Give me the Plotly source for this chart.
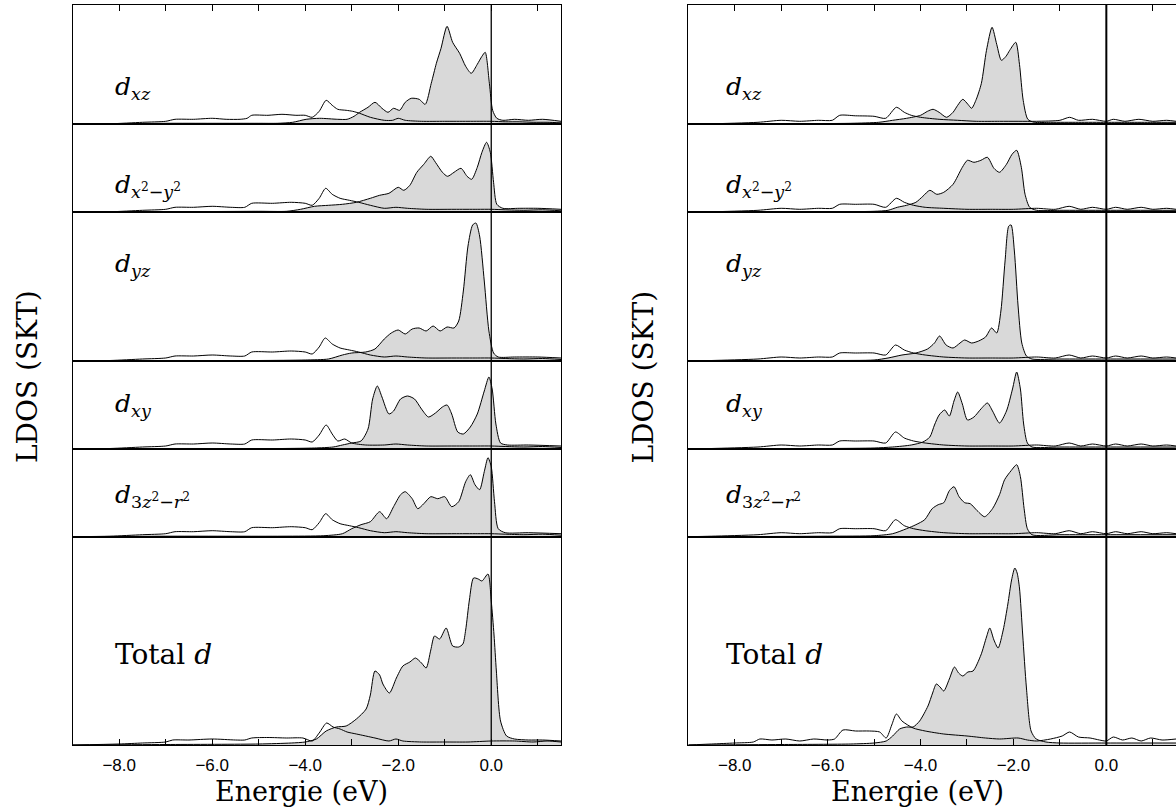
import plotly.graph_objects as go

# ---------------- data (energy in eV, LDOS in arbitrary units) ----------------
LABELS = ["<i>d</i><sub><i>xz</i></sub>",
          "<i>d</i><sub><i>x</i><sup>2</sup>−<i>y</i><sup>2</sup></sub>",
          "<i>d</i><sub><i>yz</i></sub>",
          "<i>d</i><sub><i>xy</i></sub>",
          "<i>d</i><sub>3<i>z</i><sup>2</sup>−<i>r</i><sup>2</sup></sub>",
          "Total <i>d</i>"]
YMAX = [119.3, 88.0, 148.7, 88.0, 87.7, 208.3]
E_RANGE = [-9.0, 1.5]
TICK_VALS = [-8, -6, -4, -2, 0]
TICK_TEXT = ["−8.0", "−6.0", "−4.0", "−2.0", "0.0"]
MINOR_VALS = [-7, -5, -3, -1, 1]
X_TITLE = "Energie (eV)"
Y_TITLE = "LDOS (SKT)"

L_DXZ_A = [(-9.0, 0), (-8.0, 0.5), (-7.0, 1), (-6.0, 1), (-5.0, 1), (-4.6, 1), (-4.27, 2), (-3.98, 5),
           (-3.69, 6), (-3.3, 5), (-3.1, 5), (-2.95, 8), (-2.83, 12), (-2.65, 17), (-2.5, 22), (-2.35, 16),
           (-2.22, 12), (-2.1, 16), (-1.97, 14), (-1.85, 22), (-1.72, 26), (-1.55, 25), (-1.42, 20),
           (-1.29, 41), (-1.18, 61), (-1.08, 76), (-0.95, 98), (-0.83, 82), (-0.68, 71), (-0.55, 58),
           (-0.43, 51), (-0.3, 60), (-0.2, 68), (-0.13, 72), (-0.04, 41), (0.03, 14), (0.12, 6),
           (0.25, 4), (0.5, 5), (0.8, 4), (1.1, 5), (1.5, 3)]
L_DXZ_B = [(-9.0, 0), (-8.2, 0.5), (-7.5, 2), (-7.0, 3), (-6.8, 5), (-6.4, 5), (-6.0, 6), (-5.7, 5),
           (-5.4, 5), (-5.25, 6), (-5.15, 9), (-4.8, 9), (-4.5, 10), (-4.2, 9), (-4.0, 9), (-3.85, 7),
           (-3.7, 13), (-3.55, 24), (-3.42, 19), (-3.3, 15), (-3.12, 14), (-2.98, 13), (-2.83, 11),
           (-2.6, 7), (-2.3, 4), (-2.12, 4), (-2.0, 6), (-1.85, 4), (-1.5, 3), (-1.0, 3), (-0.5, 3),
           (0.0, 3), (0.3, 2.5), (0.6, 2.5), (0.9, 2), (1.2, 2), (1.5, 1.5)]
L_DX2Y2_A = [(-9.0, 0), (-7.0, 0.5), (-5.0, 1), (-4.4, 1), (-4.1, 3), (-3.8, 6), (-3.5, 7), (-3.2, 8),
             (-2.9, 10), (-2.6, 14), (-2.4, 17), (-2.2, 19), (-2.0, 25), (-1.88, 22), (-1.75, 27),
             (-1.6, 40), (-1.45, 48), (-1.3, 56), (-1.2, 50), (-1.05, 40), (-0.94, 36), (-0.8, 40),
             (-0.65, 44), (-0.52, 36), (-0.42, 33), (-0.3, 45), (-0.2, 60), (-0.1, 70), (-0.02, 60),
             (0.05, 30), (0.12, 8), (0.25, 4), (0.6, 4), (1.0, 4), (1.5, 3)]
L_DX2Y2_B = [(-9.0, 0), (-8.2, 0.5), (-7.5, 2), (-7.0, 3), (-6.8, 5), (-6.4, 5), (-6.0, 6), (-5.6, 5),
             (-5.3, 5), (-5.15, 9), (-4.7, 9), (-4.3, 10), (-4.0, 9), (-3.85, 7), (-3.7, 14),
             (-3.56, 24), (-3.42, 18), (-3.25, 14), (-3.05, 12), (-2.85, 10), (-2.6, 7), (-2.3, 4),
             (-2.05, 5), (-1.8, 4), (-1.4, 3), (-0.8, 3), (-0.3, 3), (0.0, 3), (0.3, 2.5), (0.7, 2),
             (1.1, 2.5), (1.5, 1.5)]
L_DYZ_A = [(-9.0, 0), (-7.0, 0.5), (-5.0, 0.5), (-4.0, 1), (-3.5, 2), (-3.2, 6), (-3.0, 8), (-2.7, 9),
           (-2.5, 12), (-2.3, 22), (-2.15, 28), (-2.0, 31), (-1.85, 27), (-1.7, 32), (-1.55, 33),
           (-1.4, 30), (-1.25, 35), (-1.1, 30), (-0.95, 34), (-0.8, 33), (-0.7, 40), (-0.6, 70),
           (-0.5, 115), (-0.4, 136), (-0.33, 138), (-0.25, 125), (-0.15, 80), (-0.05, 30), (0.05, 8),
           (0.15, 4), (0.5, 4), (1.0, 4), (1.5, 3)]
L_DYZ_B = [(-9.0, 0), (-8.2, 0.5), (-7.5, 2), (-7.0, 3), (-6.8, 5), (-6.4, 5), (-6.0, 6), (-5.6, 5),
           (-5.3, 5), (-5.15, 9), (-4.7, 9), (-4.3, 10), (-4.0, 9), (-3.85, 7), (-3.7, 14), (-3.57, 23),
           (-3.42, 17), (-3.25, 13), (-3.05, 11), (-2.85, 9), (-2.6, 6), (-2.3, 4), (-2.05, 5),
           (-1.8, 4), (-1.4, 3), (-0.8, 3), (-0.3, 3), (0.0, 3), (0.3, 2.5), (0.7, 2), (1.1, 2.5),
           (1.5, 1.5)]
L_DXY_A = [(-9.0, 0), (-7.0, 0.5), (-4.5, 0.5), (-3.8, 1), (-3.4, 2), (-3.2, 4), (-3.0, 6), (-2.8, 8),
           (-2.65, 20), (-2.55, 50), (-2.45, 63), (-2.35, 52), (-2.2, 35), (-2.1, 38), (-1.95, 50),
           (-1.8, 53), (-1.65, 50), (-1.5, 40), (-1.35, 32), (-1.2, 36), (-1.05, 42), (-0.95, 44),
           (-0.85, 35), (-0.72, 17), (-0.6, 15), (-0.45, 22), (-0.3, 35), (-0.15, 58), (-0.05, 72),
           (0.02, 60), (0.1, 25), (0.2, 6), (0.35, 4), (0.8, 4), (1.5, 3)]
L_DXY_B = [(-9.0, 0), (-8.2, 0.5), (-7.5, 2), (-7.0, 3), (-6.8, 5), (-6.4, 5), (-6.0, 6), (-5.6, 5),
           (-5.3, 5), (-5.15, 9), (-4.7, 9), (-4.3, 10), (-4.0, 9), (-3.85, 7), (-3.7, 14),
           (-3.55, 24), (-3.42, 15), (-3.3, 8), (-3.15, 10), (-3.0, 6), (-2.7, 4), (-2.3, 4),
           (-2.05, 5), (-1.8, 4), (-1.4, 3), (-0.8, 3), (-0.3, 3), (0.0, 3), (0.3, 2.5), (0.7, 2),
           (1.1, 2.5), (1.5, 1.5)]
L_D3Z2_A = [(-9.0, 0), (-7.0, 0.5), (-4.5, 0.5), (-3.6, 1), (-3.2, 3), (-3.0, 8), (-2.8, 12), (-2.6, 15),
            (-2.4, 25), (-2.25, 18), (-2.1, 30), (-1.95, 42), (-1.85, 45), (-1.7, 38), (-1.58, 28),
            (-1.45, 33), (-1.3, 40), (-1.15, 38), (-1.0, 40), (-0.85, 30), (-0.7, 35), (-0.55, 55),
            (-0.45, 62), (-0.35, 52), (-0.25, 47), (-0.15, 65), (-0.07, 79), (0.0, 70), (0.07, 35),
            (0.15, 8), (0.3, 4), (0.8, 4), (1.5, 3)]
L_D3Z2_B = [(-9.0, 0), (-8.2, 0.5), (-7.5, 2), (-7.0, 3), (-6.8, 5), (-6.4, 5), (-6.0, 6), (-5.6, 5),
            (-5.3, 5), (-5.15, 9), (-4.7, 9), (-4.3, 10), (-4.0, 9), (-3.85, 7), (-3.7, 14),
            (-3.56, 23), (-3.42, 17), (-3.25, 13), (-3.05, 11), (-2.85, 9), (-2.6, 6), (-2.3, 4),
            (-2.05, 5), (-1.8, 4), (-1.4, 3), (-0.8, 3), (-0.3, 3), (0.0, 3), (0.3, 2.5), (0.7, 2),
            (1.1, 2.5), (1.5, 1.5)]
L_TOTAL_A = [(-9.0, 0), (-7.0, 0.5), (-5.0, 1), (-4.3, 2), (-4.0, 3), (-3.76, 6), (-3.55, 14),
             (-3.33, 18), (-3.12, 19), (-2.9, 26), (-2.69, 36), (-2.6, 50), (-2.5, 74), (-2.4, 70),
             (-2.33, 61), (-2.19, 52), (-2.04, 67), (-1.9, 79), (-1.75, 83), (-1.63, 87), (-1.5, 82),
             (-1.4, 77), (-1.3, 95), (-1.22, 109), (-1.11, 106), (-0.97, 117), (-0.83, 99), (-0.7, 98),
             (-0.61, 101), (-0.55, 115), (-0.47, 145), (-0.38, 167), (-0.28, 166), (-0.2, 164),
             (-0.07, 171), (0.0, 144), (0.06, 110), (0.11, 74), (0.2, 24), (0.33, 9), (0.5, 6),
             (0.8, 5), (1.1, 5), (1.5, 4)]
L_TOTAL_B = [(-9.0, 0), (-8.0, 1), (-7.5, 2), (-7.0, 3), (-6.85, 5), (-6.5, 5), (-6.0, 6), (-5.5, 5),
             (-5.3, 5), (-5.15, 7), (-4.8, 7.5), (-4.4, 7), (-4.05, 7), (-3.85, 4), (-3.7, 12),
             (-3.54, 22), (-3.4, 18), (-3.25, 16), (-3.1, 13), (-2.9, 11), (-2.5, 7), (-2.2, 4),
             (-2.05, 6), (-1.9, 4), (-1.5, 3), (-1.0, 3), (-0.5, 3), (0.0, 4), (0.5, 4), (0.9, 3),
             (1.2, 4), (1.5, 3)]

R_DXZ_A = [(-9.0, 0), (-7.0, 0.5), (-5.5, 1), (-4.9, 2), (-4.6, 4), (-4.3, 6), (-4.0, 9), (-3.85, 13),
           (-3.73, 15), (-3.6, 12), (-3.44, 7), (-3.3, 12), (-3.2, 19), (-3.09, 25), (-2.98, 20),
           (-2.9, 16), (-2.8, 25), (-2.69, 41), (-2.58, 74), (-2.46, 97), (-2.36, 80), (-2.26, 64),
           (-2.16, 68), (-2.08, 74), (-1.95, 82), (-1.87, 60), (-1.79, 24), (-1.69, 5), (-1.55, 2),
           (-1.2, 2), (-0.6, 2), (0.0, 2), (0.5, 2), (1.0, 2), (1.5, 2)]
R_DXZ_B = [(-9.0, 0), (-8.5, 0.5), (-7.5, 2), (-7.0, 4), (-6.6, 3), (-6.2, 4), (-5.9, 4), (-5.74, 9),
           (-5.4, 8.5), (-5.0, 8), (-4.75, 6), (-4.52, 17), (-4.35, 12), (-4.2, 9), (-4.0, 7),
           (-3.6, 5), (-3.2, 4), (-2.8, 3), (-2.3, 3), (-1.9, 3), (-1.5, 3), (-1.0, 4), (-0.79, 7),
           (-0.6, 4), (-0.3, 5), (0.0, 3), (0.15, 5), (0.4, 3), (0.7, 5), (1.0, 3), (1.3, 4), (1.5, 3)]
R_DX2Y2_A = [(-9.0, 0), (-6.0, 0.5), (-5.0, 1), (-4.7, 2), (-4.5, 5), (-4.3, 7), (-4.1, 10),
             (-3.95, 16), (-3.8, 22), (-3.65, 18), (-3.5, 20), (-3.3, 28), (-3.1, 45), (-2.99, 52),
             (-2.85, 50), (-2.7, 52), (-2.56, 55), (-2.42, 44), (-2.3, 40), (-2.15, 48), (-2.03, 58),
             (-1.93, 62), (-1.83, 45), (-1.75, 18), (-1.65, 5), (-1.5, 2), (-1.0, 2), (0.0, 2),
             (1.5, 2)]
R_DX2Y2_B = [(-9.0, 0), (-8.5, 0.5), (-7.5, 2), (-7.0, 4), (-6.6, 3), (-6.2, 4), (-5.9, 4), (-5.74, 8),
             (-5.4, 8), (-5.0, 8), (-4.75, 5), (-4.52, 14), (-4.35, 10), (-4.15, 7), (-3.9, 5),
             (-3.5, 4), (-3.0, 3), (-2.5, 3), (-2.0, 3), (-1.5, 4), (-1.1, 3), (-0.8, 6), (-0.55, 3),
             (-0.3, 5), (0.0, 3), (0.2, 5), (0.45, 3), (0.75, 5), (1.0, 3), (1.3, 4), (1.5, 3)]
R_DYZ_A = [(-9.0, 0), (-6.0, 0.5), (-5.0, 1), (-4.7, 3), (-4.4, 6), (-4.1, 8), (-3.85, 12), (-3.7, 18),
           (-3.59, 25), (-3.45, 16), (-3.3, 13), (-3.15, 18), (-3.05, 21), (-2.9, 18), (-2.75, 20),
           (-2.6, 24), (-2.47, 33), (-2.36, 28), (-2.27, 50), (-2.18, 100), (-2.1, 135), (-2.05, 136),
           (-1.98, 110), (-1.9, 55), (-1.82, 18), (-1.72, 5), (-1.6, 2), (-1.0, 2), (0.0, 2),
           (1.5, 2)]
R_DYZ_B = [(-9.0, 0), (-8.5, 0.5), (-7.5, 2), (-7.0, 4), (-6.6, 3), (-6.2, 4), (-5.9, 4), (-5.74, 8),
           (-5.4, 8), (-5.0, 8), (-4.75, 6), (-4.54, 16), (-4.35, 11), (-4.15, 8), (-3.9, 6),
           (-3.5, 4), (-3.0, 3), (-2.5, 3), (-2.0, 3), (-1.5, 4), (-1.1, 3), (-0.8, 6), (-0.55, 3),
           (-0.3, 5), (0.0, 3), (0.2, 5), (0.45, 3), (0.75, 5), (1.0, 3), (1.3, 4), (1.5, 3)]
R_DXY_A = [(-9.0, 0), (-6.0, 0.5), (-5.0, 1), (-4.6, 2), (-4.2, 4), (-3.95, 7), (-3.8, 12), (-3.7, 24),
           (-3.6, 34), (-3.48, 39), (-3.38, 33), (-3.28, 48), (-3.2, 57), (-3.1, 45), (-2.99, 29),
           (-2.85, 32), (-2.7, 40), (-2.56, 46), (-2.45, 38), (-2.3, 26), (-2.15, 38), (-2.02, 60),
           (-1.93, 77), (-1.85, 60), (-1.78, 25), (-1.7, 6), (-1.6, 2), (-1.0, 2), (0.0, 2),
           (1.5, 2)]
R_DXY_B = [(-9.0, 0), (-8.5, 0.5), (-7.5, 2), (-7.0, 4), (-6.6, 3), (-6.2, 4), (-5.9, 4), (-5.74, 8),
           (-5.4, 8), (-5.0, 8), (-4.75, 6), (-4.54, 17), (-4.35, 11), (-4.15, 8), (-3.9, 6),
           (-3.5, 4), (-3.0, 3), (-2.5, 3), (-2.0, 3), (-1.5, 4), (-1.1, 3), (-0.8, 6), (-0.55, 3),
           (-0.3, 5), (0.0, 3), (0.2, 5), (0.45, 3), (0.75, 5), (1.0, 3), (1.3, 4), (1.5, 3)]
R_D3Z2_A = [(-9.0, 0), (-6.0, 0.5), (-5.0, 1), (-4.6, 3), (-4.3, 8), (-4.1, 12), (-3.91, 17),
            (-3.75, 28), (-3.62, 32), (-3.5, 34), (-3.38, 46), (-3.28, 50), (-3.17, 40), (-3.05, 34),
            (-2.93, 33), (-2.78, 26), (-2.62, 20), (-2.45, 28), (-2.3, 42), (-2.19, 57), (-2.05, 66),
            (-1.93, 72), (-1.85, 60), (-1.77, 28), (-1.7, 8), (-1.6, 2), (-1.0, 2), (0.0, 2), (1.5, 2)]
R_D3Z2_B = [(-9.0, 0), (-8.5, 0.5), (-7.5, 2), (-7.0, 4), (-6.6, 3), (-6.2, 4), (-5.9, 4), (-5.74, 8),
            (-5.4, 8), (-5.0, 8), (-4.75, 6), (-4.54, 17), (-4.35, 11), (-4.15, 8), (-3.9, 6),
            (-3.5, 4), (-3.0, 3), (-2.5, 3), (-2.0, 3), (-1.5, 4), (-1.1, 3), (-0.8, 6), (-0.55, 3),
            (-0.3, 5), (0.0, 3), (0.2, 5), (0.45, 3), (0.75, 5), (1.0, 3), (1.3, 4), (1.5, 3)]
R_TOTAL_A = [(-9.0, 0), (-7.0, 0.5), (-5.5, 1), (-5.0, 2), (-4.74, 4), (-4.6, 9), (-4.45, 16),
             (-4.3, 18), (-4.16, 18), (-4.02, 24), (-3.84, 39), (-3.74, 52), (-3.66, 61), (-3.58, 58),
             (-3.5, 54), (-3.38, 66), (-3.27, 78), (-3.18, 72), (-3.09, 69), (-2.98, 73), (-2.87, 74),
             (-2.7, 90), (-2.58, 108), (-2.51, 117), (-2.42, 105), (-2.33, 97), (-2.22, 115),
             (-2.12, 141), (-2.04, 165), (-1.97, 177), (-1.92, 172), (-1.87, 157), (-1.8, 110),
             (-1.72, 57), (-1.62, 14), (-1.51, 6), (-1.3, 3), (-1.0, 2), (0.0, 2), (1.5, 2)]
R_TOTAL_B = [(-9.0, 0), (-8.5, 1), (-8.0, 2), (-7.6, 3), (-7.46, 6), (-7.2, 5), (-6.9, 6), (-6.6, 4),
             (-6.3, 6), (-6.0, 5), (-5.85, 6), (-5.67, 15), (-5.4, 14), (-5.1, 14), (-4.88, 13),
             (-4.74, 7), (-4.62, 20), (-4.52, 31), (-4.4, 24), (-4.16, 17), (-3.9, 14), (-3.5, 11),
             (-3.0, 9), (-2.6, 7), (-2.3, 6), (-1.9, 7), (-1.7, 5), (-1.5, 4), (-1.2, 6), (-0.95, 9),
             (-0.79, 13), (-0.6, 8), (-0.35, 7), (-0.15, 5), (0.0, 4), (0.15, 8), (0.35, 5),
             (0.55, 7), (0.75, 4), (0.95, 7), (1.2, 5), (1.5, 6)]

PANELS = [
    [(L_DXZ_A, L_DXZ_B), (L_DX2Y2_A, L_DX2Y2_B), (L_DYZ_A, L_DYZ_B),
     (L_DXY_A, L_DXY_B), (L_D3Z2_A, L_D3Z2_B), (L_TOTAL_A, L_TOTAL_B)],
    [(R_DXZ_A, R_DXZ_B), (R_DX2Y2_A, R_DX2Y2_B), (R_DYZ_A, R_DYZ_B),
     (R_DXY_A, R_DXY_B), (R_D3Z2_A, R_D3Z2_B), (R_TOTAL_A, R_TOTAL_B)],
]

# ---------------- layout geometry (pixels) ----------------
W, H = 1176, 812
PANEL_X = [(72.7, 561.0), (688.3, 1176.0)]
TOP, BOTTOM = 5.0, 745.0
LABEL_X = [113, 724]
LABEL_Y = [88, 186, 265, 405, 496, 654]
ZERO_W = [1.3, 2.0]
SERIF = "DejaVu Serif, serif"
SANS = "Liberation Sans, Arial, Helvetica, sans-serif"


def fx(px):
    return px / W


def fy(py):
    return 1 - py / H


fig = go.Figure()
layout = dict(width=W, height=H, margin=dict(l=0, r=0, t=0, b=0),
              paper_bgcolor="white", plot_bgcolor="white", showlegend=False)
annotations = []
shapes = []
total = sum(YMAX)
scale = (BOTTOM - TOP) / total

for p, panel in enumerate(PANELS):
    x0, x1 = PANEL_X[p]
    top = TOP
    for r, (curve_a, curve_b) in enumerate(panel):
        idx = p * 6 + r + 1
        xa = "x" if idx == 1 else f"x{idx}"
        ya = "y" if idx == 1 else f"y{idx}"
        h = YMAX[r] * scale
        bot = top + h
        xkey = "xaxis" if idx == 1 else f"xaxis{idx}"
        ykey = "yaxis" if idx == 1 else f"yaxis{idx}"
        xd = dict(domain=[fx(x0), fx(x1)], range=E_RANGE, anchor=ya,
                  showline=True, linecolor="black", linewidth=1, mirror=True,
                  showgrid=False, zeroline=False, tickmode="array",
                  tickvals=TICK_VALS, ticktext=TICK_TEXT, ticklen=6,
                  tickcolor="black", tickwidth=1, ticklabelstandoff=5,
                  tickfont=dict(family=SANS, size=17, color="black"))
        if r == 0:
            xd.update(side="top", ticks="inside", showticklabels=False,
                      minor=dict(tickmode="array", tickvals=MINOR_VALS, ticks="inside",
                                 ticklen=6, tickcolor="black", tickwidth=1, showgrid=False))
        elif r == len(panel) - 1:
            xd.update(side="bottom", ticks="inside", showticklabels=True,
                      minor=dict(tickmode="array", tickvals=MINOR_VALS, ticks="inside",
                                 ticklen=6, tickcolor="black", tickwidth=1, showgrid=False))
        else:
            xd.update(ticks="", showticklabels=False)
        layout[xkey] = xd
        layout[ykey] = dict(domain=[fy(bot), fy(top)], range=[0, YMAX[r]], anchor=xa,
                            showline=True, linecolor="black", linewidth=1, mirror=True,
                            showgrid=False, zeroline=False, ticks="", showticklabels=False)
        ea, va = zip(*curve_a)
        eb, vb = zip(*curve_b)
        fig.add_trace(go.Scatter(x=ea, y=va, xaxis=xa, yaxis=ya, mode="lines",
                                 line=dict(color="black", width=1, shape="spline", smoothing=0.7),
                                 fill="tozeroy", fillcolor="#d9d9d9", hoverinfo="skip"))
        fig.add_trace(go.Scatter(x=eb, y=vb, xaxis=xa, yaxis=ya, mode="lines",
                                 line=dict(color="black", width=1, shape="spline", smoothing=0.7),
                                 hoverinfo="skip"))
        annotations.append(dict(text=LABELS[r], x=fx(LABEL_X[p]), y=fy(LABEL_Y[r]),
                                xref="paper", yref="paper", xanchor="left", yanchor="middle",
                                showarrow=False,
                                font=dict(family=SERIF,
                                          size=28 if r == len(panel) - 1 else 25, color="black")))
        top = bot
    last = f"x{p * 6 + 6}"
    shapes.append(dict(type="line", xref=last, yref="paper", x0=0, x1=0,
                       y0=fy(BOTTOM), y1=fy(TOP), line=dict(color="black", width=ZERO_W[p])))
    annotations.append(dict(text=X_TITLE, x=fx(x0 + 229), y=fy(791), xref="paper", yref="paper",
                            xanchor="center", yanchor="middle", showarrow=False,
                            font=dict(family=SERIF, size=27, color="black")))
    annotations.append(dict(text=Y_TITLE, x=fx(x0 - 45.7), y=fy(377), xref="paper", yref="paper",
                            xanchor="center", yanchor="middle", showarrow=False, textangle=-90,
                            font=dict(family=SERIF, size=28, color="black")))

layout["annotations"] = annotations
layout["shapes"] = shapes
fig.update_layout(**layout)
fig.write_html("out.html")
